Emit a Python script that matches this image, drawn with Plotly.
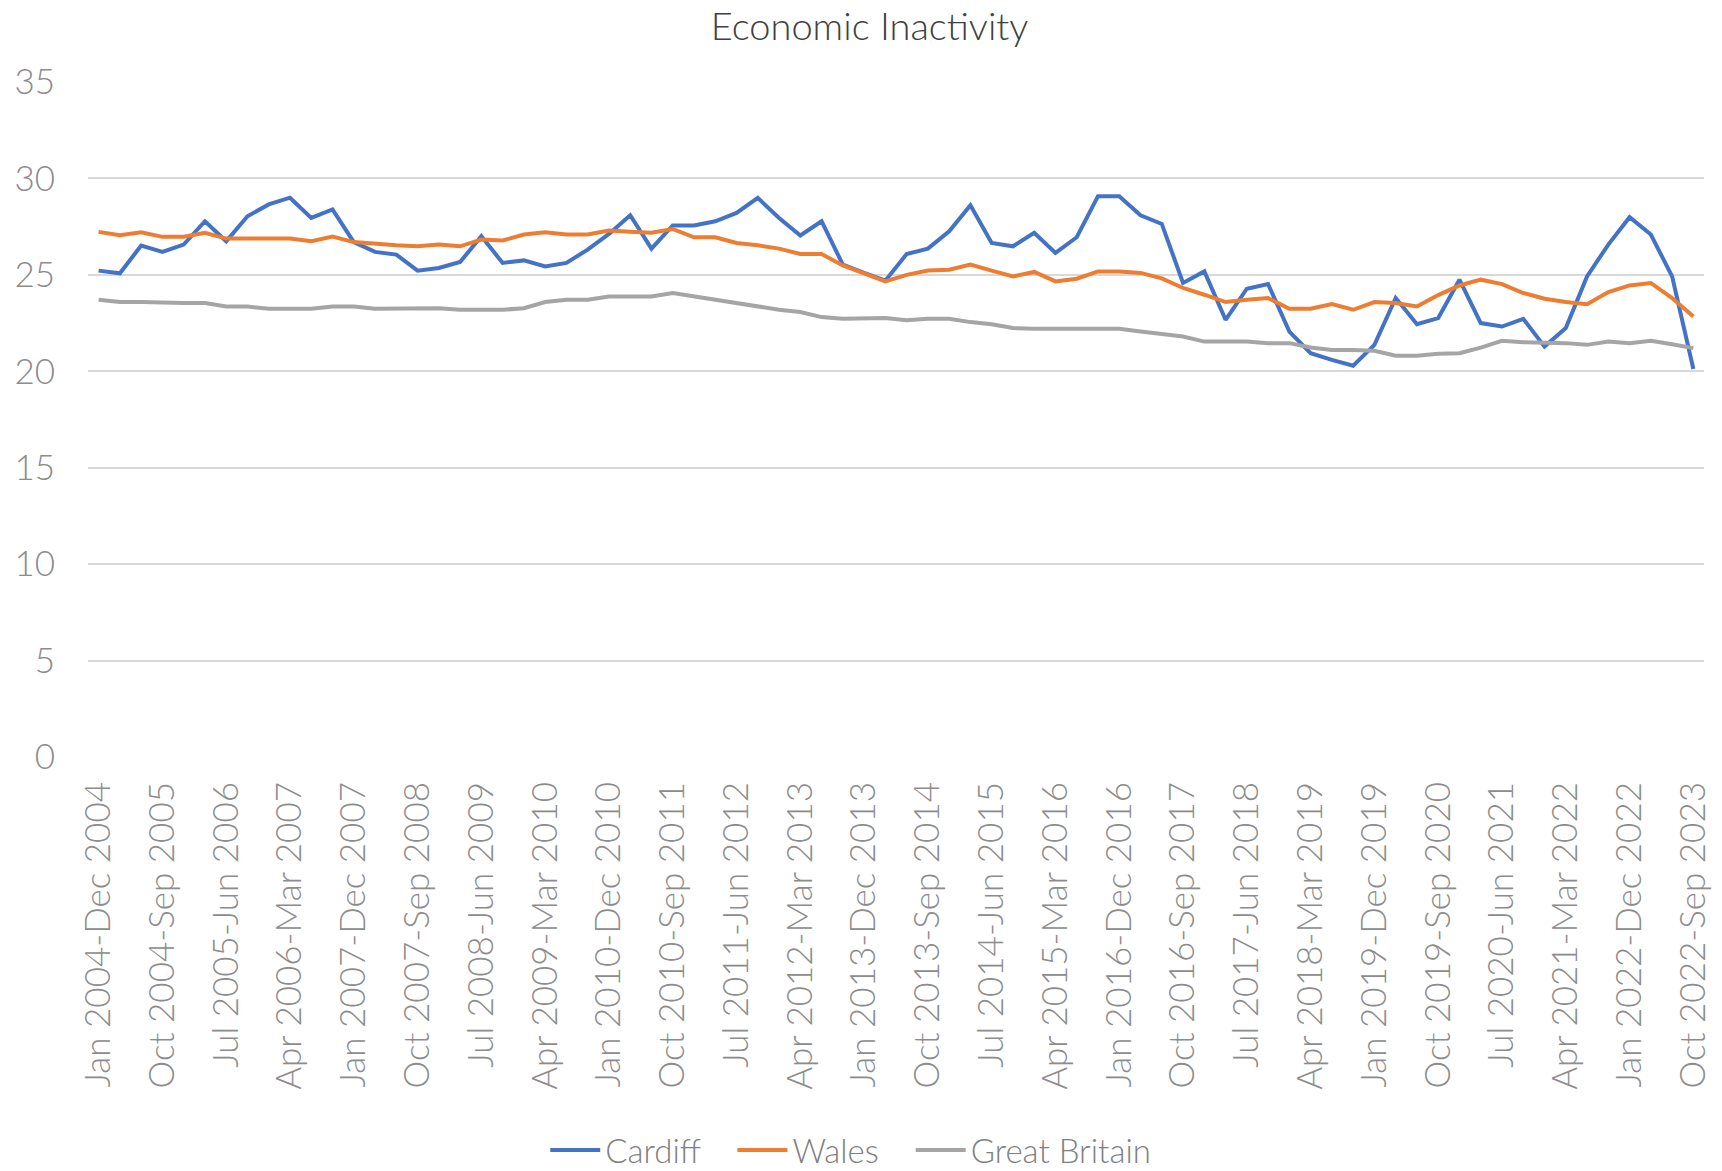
import plotly.graph_objects as go

MONTHS = ["Jan", "Feb", "Mar", "Apr", "May", "Jun", "Jul", "Aug", "Sep", "Oct", "Nov", "Dec"]

# rolling 12-month periods, quarterly, Jan 2004-Dec 2004 .. Oct 2022-Sep 2023
categories = []
for k in range(76):
    s = k * 3
    e = s + 11
    categories.append(f"{MONTHS[s % 12]} {2004 + s // 12}-{MONTHS[e % 12]} {2004 + e // 12}")

tick_labels = categories[::3]

cardiff = [25.22, 25.08, 26.52, 26.19, 26.57, 27.78, 26.74, 28.04, 28.65, 29.0,
           27.95, 28.39, 26.7, 26.19, 26.05, 25.22, 25.36, 25.67, 27.0, 25.62,
           25.75, 25.44, 25.62, 26.31, 27.12, 28.09, 26.36, 27.56, 27.56, 27.78,
           28.21, 28.99, 27.95, 27.04, 27.78, 25.53, 25.1, 24.7, 26.08, 26.36,
           27.26, 28.61, 26.65, 26.48, 27.18, 26.14, 26.95, 29.08, 29.08, 28.09,
           27.64, 24.58, 25.18, 22.67, 24.28, 24.52, 22.06, 20.94, 20.59, 20.29,
           21.37, 23.8, 22.44, 22.76, 24.75, 22.5, 22.32, 22.72, 21.28, 22.24,
           24.92, 26.57, 27.99, 27.09, 24.92, 20.12]

wales = [27.23, 27.05, 27.21, 26.97, 26.98, 27.18, 26.88, 26.88, 26.88, 26.88,
         26.74, 26.98, 26.7, 26.6, 26.53, 26.48, 26.57, 26.48, 26.83, 26.78,
         27.09, 27.21, 27.09, 27.09, 27.3, 27.24, 27.18, 27.38, 26.95, 26.95,
         26.65, 26.53, 26.36, 26.08, 26.08, 25.49, 25.1, 24.66, 25.0, 25.22,
         25.27, 25.53, 25.22, 24.92, 25.15, 24.66, 24.8, 25.18, 25.18, 25.1,
         24.82, 24.32, 23.97, 23.59, 23.71, 23.8, 23.24, 23.24, 23.48, 23.19,
         23.59, 23.54, 23.36, 23.95, 24.45, 24.75, 24.52, 24.06, 23.76, 23.59,
         23.48, 24.11, 24.45, 24.58, 23.8, 22.84]

great_britain = [23.71, 23.59, 23.59, 23.54, 23.54, 23.54, 23.36, 23.36, 23.24, 23.24,
                 23.24, 23.36, 23.36, 23.24, 23.24, 23.24, 23.27, 23.19, 23.19, 23.19,
                 23.27, 23.59, 23.71, 23.71, 23.88, 23.88, 23.88, 24.06, 23.88, 23.71,
                 23.54, 23.36, 23.19, 23.07, 22.81, 22.72, 22.76, 22.76, 22.65, 22.72,
                 22.72, 22.55, 22.44, 22.24, 22.2, 22.2, 22.2, 22.2, 22.2, 22.06,
                 21.95, 21.8, 21.54, 21.54, 21.54, 21.46, 21.46, 21.23, 21.11, 21.11,
                 21.06, 20.81, 20.81, 20.91, 20.94, 21.23, 21.58, 21.51, 21.51, 21.46,
                 21.37, 21.54, 21.46, 21.58, 21.4, 21.2]

series_names = ["Cardiff", "Wales", "Great Britain"]
series_values = [cardiff, wales, great_britain]
series_colors = ["#4472C4", "#ED7D31", "#A5A5A5"]

FONT = "Lato, 'Open Sans', sans-serif"
GAP = "\u00a0\u00a0\u00a0"

fig = go.Figure()
for i, (name, vals, col) in enumerate(zip(series_names, series_values, series_colors)):
    label = name + (GAP if i < len(series_names) - 1 else "")
    fig.add_trace(go.Scatter(x=categories, y=vals, mode="lines", name=label,
                             line=dict(color=col, width=4)))

fig.update_layout(
    width=1722, height=1171,
    paper_bgcolor="white", plot_bgcolor="white",
    margin=dict(l=88, r=18, t=82, b=414, autoexpand=False),
    font=dict(family=FONT, color="#8c8c8c", weight=300),
    title=dict(text="Economic Inactivity", x=0.505, xref="container", xanchor="center",
               y=1 - 27 / 1171, yref="container", yanchor="middle",
               font=dict(family=FONT, size=38, color="#404040", weight=300)),
    showlegend=True,
    legend=dict(orientation="h", x=0.472, xanchor="center",
                y=1 - 1150 / 1171, yref="container", yanchor="middle",
                font=dict(family=FONT, size=33, color="#808080", weight=300),
                itemwidth=50, tracegroupgap=0),
)
fig.update_xaxes(type="category", categoryorder="array", categoryarray=categories,
                 range=[-0.5, 75.5], tickvals=tick_labels, ticktext=tick_labels,
                 tickangle=-90, showgrid=False, showline=False, zeroline=False,
                 ticks="", ticklabelstandoff=17, automargin=False,
                 tickfont=dict(family=FONT, size=35, color="#8c8c8c", weight=300))
fig.update_yaxes(range=[0, 35], dtick=5, showgrid=True, gridcolor="#d9d9d9", gridwidth=2,
                 zeroline=False, showline=False, ticks="", ticklabelstandoff=32,
                 automargin=False,
                 tickfont=dict(family=FONT, size=35, color="#8c8c8c", weight=300))

fig.write_html("out.html", config={"displayModeBar": False},
               post_script="document.body.style.margin='0';document.body.style.overflow='hidden';")
